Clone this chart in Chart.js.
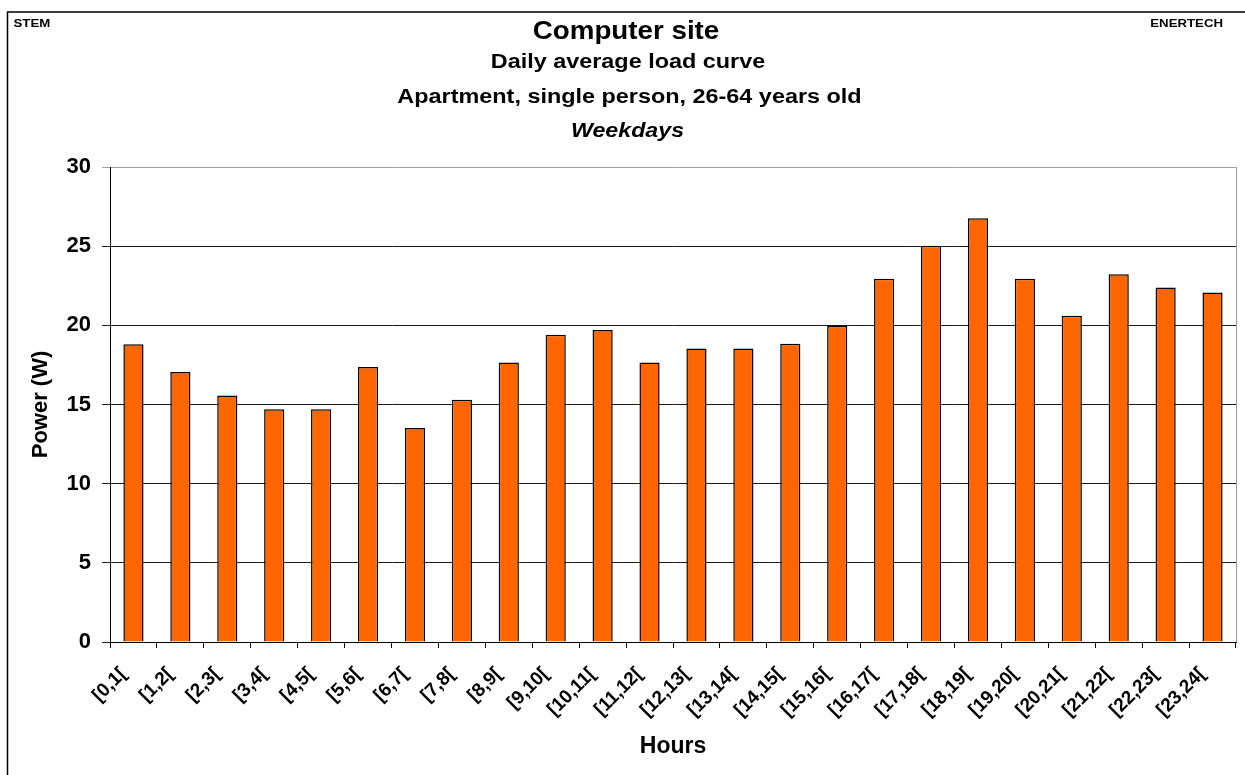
<!DOCTYPE html>
<html>
<head>
<meta charset="utf-8">
<script src="https://cdn.jsdelivr.net/npm/chart.js@4.4.1/dist/chart.umd.min.js"></script>
<style>
  body { margin: 0; background: #fff; }
  #wrap { width: 1245px; height: 775px; }
</style>
</head>
<body>
<div id="wrap"><canvas id="loadCurve" width="1245" height="775"></canvas></div>
<script>
// Computer site - weekday average load curve

const hours = [
    '[0,1[', '[1,2[', '[2,3[', '[3,4[', '[4,5[', '[5,6[', '[6,7[', '[7,8[',
    '[8,9[', '[9,10[', '[10,11[', '[11,12[', '[12,13[', '[13,14[', '[14,15[', '[15,16[',
    '[16,17[', '[17,18[', '[18,19[', '[19,20[', '[20,21[', '[21,22[', '[22,23[', '[23,24['
]

const power = [
    18.8, 17.05, 15.57, 14.7, 14.7, 17.37, 13.52, 15.3,
    17.66, 19.41, 19.71, 17.66, 18.53, 18.53, 18.84, 19.98,
    22.95, 25.02, 26.77, 22.95, 20.61, 23.23, 22.39, 22.07
]

const yTicks = [0, 5, 10, 15, 20, 25, 30]

const titleLines = [
    'Computer site',
    'Daily average load curve',
    'Apartment, single person, 26-64 years old',
    'Weekdays'
]

const FONT = '"Liberation Sans", Arial, sans-serif'

// the original text is a bit wider than Arial, so stretch it horizontally
let stretchedText = function(ctx, text, x, y, font, sx, align) {
    ctx.save()
    ctx.font = font
    ctx.textAlign = align
    ctx.translate(x, y)
    ctx.scale(sx, 1)
    ctx.fillText(text, 0, 0)
    ctx.restore()
}

// header texts, outer frame and the grey right edge of the plot
const decorations = {
    id: 'decorations',
    afterDraw(chart) {
        let ctx = chart.ctx
        let area = chart.chartArea
        ctx.save()

        ctx.strokeStyle = '#000'
        ctx.lineWidth = 1.5
        ctx.beginPath()
        ctx.moveTo(7.5, 780)
        ctx.lineTo(7.5, 12)
        ctx.lineTo(1260, 12)
        ctx.stroke()

        ctx.strokeStyle = '#9a9a9a'
        ctx.lineWidth = 1
        ctx.beginPath()
        ctx.moveTo(Math.round(area.right) + 0.5, area.top)
        ctx.lineTo(Math.round(area.right) + 0.5, area.bottom)
        ctx.stroke()

        ctx.fillStyle = '#000'
        ctx.textBaseline = 'alphabetic'
        stretchedText(ctx, 'STEM', 13.5, 26.5, 'bold 11.5px ' + FONT, 1.15, 'left')
        stretchedText(ctx, 'ENERTECH', 1223, 26.5, 'bold 11.5px ' + FONT, 1.15, 'right')

        stretchedText(ctx, titleLines[0], 626, 39, 'bold 25px ' + FONT, 1.11, 'center')
        stretchedText(ctx, titleLines[1], 628, 67.5, 'bold 19.5px ' + FONT, 1.2, 'center')
        stretchedText(ctx, titleLines[2], 629.5, 102.5, 'bold 19.5px ' + FONT, 1.2, 'center')
        stretchedText(ctx, titleLines[3], 627.5, 137, 'italic bold 20px ' + FONT, 1.16, 'center')
        ctx.restore()
    }
}

let loadCurve = new Chart(document.getElementById('loadCurve').getContext('2d'), {
    type: 'bar',
    plugins: [decorations],
    data: {
        labels: hours,
        datasets: [{
            label: 'Power (W)',
            data: power,
            backgroundColor: '#ff6600',
            borderColor: '#000',
            borderWidth: 1.5,
            barPercentage: 0.43,
            categoryPercentage: 1
        }]
    },
    options: {
        responsive: false,
        animation: false,
        layout: {
            padding: { top: 167, left: 28, right: 9, bottom: 15 }
        },
        plugins: {
            legend: { display: false },
            tooltip: { enabled: false }
        },
        scales: {
            x: {
                afterFit: scale => { scale.height = 118 },
                grid: {
                    offset: true,
                    drawOnChartArea: false,
                    tickLength: 6,
                    color: '#000'
                },
                border: { color: '#000', width: 1 },
                ticks: {
                    color: '#000',
                    font: { family: FONT, size: 19, weight: 'bold' },
                    maxRotation: 45,
                    minRotation: 45,
                    autoSkip: false,
                    padding: 15,
                    labelOffset: -10
                },
                title: {
                    display: true,
                    text: 'Hours',
                    color: '#000',
                    font: { family: FONT, size: 23, weight: 'bold' },
                    padding: 0
                }
            },
            y: {
                min: 0,
                max: 30,
                afterFit: scale => { scale.width = 82 },
                afterBuildTicks: scale => { scale.ticks = yTicks.map(v => ({ value: v })) },
                grid: {
                    color: ctx => (ctx.tick && ctx.tick.value === 30) ? '#a0a0a0' : '#1a1a1a',
                    tickLength: 8,
                    lineWidth: 1
                },
                border: { color: '#000', width: 1 },
                ticks: {
                    color: '#000',
                    font: { family: FONT, size: 22, weight: 'bold' },
                    padding: 11
                },
                title: {
                    display: true,
                    text: 'Power (W)',
                    color: '#000',
                    font: { family: FONT, size: 22, weight: 'bold' },
                    padding: 0
                }
            }
        }
    }
})
</script>
</body>
</html>
